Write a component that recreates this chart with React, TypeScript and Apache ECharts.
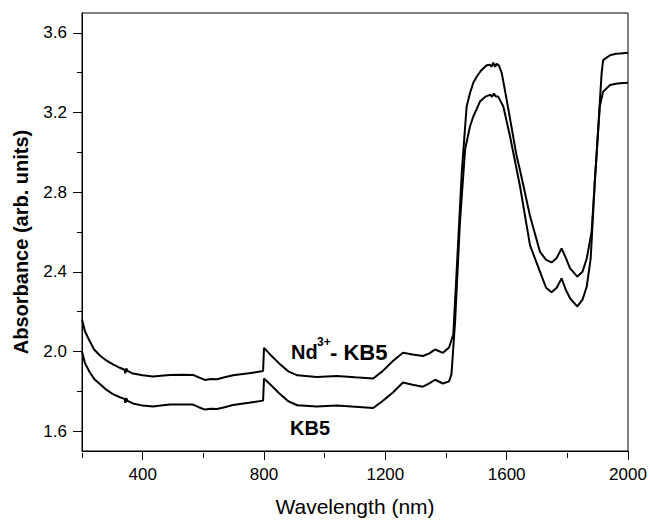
import React, { useEffect, useRef } from "react";
import * as echarts from "echarts";

// Nd3+ - KB5 (upper curve)
const wlUpper = [200, 210, 226, 240, 259, 280, 302, 325, 340, 343, 346, 350, 368, 400, 434, 460, 490, 530, 566, 585, 605, 625, 645, 670, 698, 750, 797, 800, 820, 850, 880, 910, 974, 1040, 1100, 1160, 1190, 1225, 1258, 1290, 1324, 1345, 1364, 1390, 1410, 1424, 1435, 1452, 1468, 1479, 1490, 1501, 1515, 1534, 1545, 1550, 1556, 1562, 1567, 1575, 1584, 1600, 1633, 1644, 1677, 1710, 1730, 1748, 1765, 1781, 1795, 1809, 1833, 1850, 1864, 1880, 1896, 1913, 1918, 1941, 1960, 1974, 2000];
const absUpper = [2.16, 2.1, 2.05, 2.01, 1.98, 1.955, 1.935, 1.918, 1.908, 1.89, 1.915, 1.902, 1.889, 1.88, 1.874, 1.878, 1.882, 1.883, 1.882, 1.87, 1.857, 1.862, 1.86, 1.87, 1.88, 1.89, 1.902, 2.018, 1.985, 1.94, 1.9, 1.88, 1.872, 1.877, 1.87, 1.864, 1.9, 1.952, 1.993, 1.985, 1.977, 1.99, 2.01, 1.993, 2.02, 2.085, 2.4, 2.9, 3.23, 3.297, 3.35, 3.38, 3.41, 3.438, 3.44, 3.43, 3.45, 3.43, 3.445, 3.435, 3.397, 3.264, 2.98, 2.91, 2.68, 2.5, 2.46, 2.447, 2.47, 2.517, 2.47, 2.417, 2.376, 2.4, 2.467, 2.6, 2.98, 3.397, 3.463, 3.488, 3.495, 3.496, 3.5];

// KB5 (lower curve)
const wlLower = [200, 210, 226, 240, 259, 280, 302, 325, 340, 343, 346, 350, 368, 400, 434, 460, 490, 530, 566, 585, 605, 625, 645, 670, 698, 750, 797, 800, 820, 850, 880, 910, 974, 1040, 1100, 1160, 1190, 1225, 1258, 1290, 1324, 1345, 1364, 1390, 1410, 1418, 1430, 1446, 1463, 1479, 1490, 1512, 1530, 1545, 1552, 1558, 1565, 1572, 1589, 1611, 1644, 1677, 1710, 1730, 1748, 1765, 1781, 1795, 1809, 1833, 1850, 1864, 1877, 1891, 1907, 1918, 1941, 1960, 1974, 2000];
const absLower = [2.0, 1.94, 1.894, 1.862, 1.836, 1.808, 1.786, 1.77, 1.762, 1.742, 1.765, 1.752, 1.739, 1.728, 1.723, 1.728, 1.733, 1.734, 1.733, 1.72, 1.708, 1.712, 1.711, 1.72, 1.731, 1.742, 1.753, 1.864, 1.835, 1.79, 1.75, 1.73, 1.723, 1.728, 1.722, 1.716, 1.75, 1.794, 1.844, 1.833, 1.823, 1.84, 1.858, 1.839, 1.85, 1.885, 2.151, 2.65, 3.015, 3.13, 3.18, 3.255, 3.28, 3.289, 3.28, 3.295, 3.28, 3.28, 3.23, 3.081, 2.83, 2.533, 2.4, 2.32, 2.297, 2.32, 2.367, 2.31, 2.267, 2.226, 2.26, 2.326, 2.467, 2.865, 3.23, 3.305, 3.338, 3.345, 3.347, 3.35];

const xMajorTicks = [400, 800, 1200, 1600, 2000];
const xMinorTicks = [200, 600, 1000, 1400, 1800];
const yMajorTicks = [1.6, 2.0, 2.4, 2.8, 3.2, 3.6];
const yMinorTicks = [1.8, 2.2, 2.6, 3.0, 3.4];

const FONT = "Arial, 'Liberation Sans', Helvetica, sans-serif";

export default function App() {
  const ref = useRef<HTMLDivElement>(null);
  useEffect(() => {
    document.body.style.margin = "0";
    const chart = echarts.init(ref.current!, null, { renderer: "svg" });
    const gridLeft = 82, gridRight = 22, gridTop = 13, gridBottom = 69;
    const gw = 650 - gridLeft - gridRight;
    const gh = 522 - gridTop - gridBottom;
    const line = (wl: number[], ab: number[], name: string) => ({
      type: "line",
      name,
      data: wl.map((w, i) => [w, ab[i]]),
      showSymbol: false,
      symbol: "none",
      lineStyle: { color: "#000", width: 2 },
      itemStyle: { color: "#000" },
      xAxisIndex: 0,
      yAxisIndex: 0,
    });
    chart.setOption({
      animation: false,
      backgroundColor: "#fff",
      grid: {
        left: gridLeft,
        right: gridRight,
        top: gridTop,
        bottom: gridBottom,
        show: true,
        borderColor: "#000",
        borderWidth: 1,
        backgroundColor: "transparent",
      },
      xAxis: [
        {
          type: "value",
          min: 200,
          max: 2000,
          position: "bottom",
          splitLine: { show: false },
          axisLine: { show: true, lineStyle: { color: "#000", width: 1 } },
          axisTick: { show: true, customValues: xMajorTicks, length: 9, lineStyle: { color: "#000" } },
          axisLabel: {
            customValues: xMajorTicks,
            formatter: (v: number) => String(v),
            color: "#000",
            fontSize: 17,
            fontFamily: FONT,
            margin: 15,
          },
          name: "Wavelength (nm)",
          nameLocation: "middle",
          nameGap: 45,
          nameTextStyle: { color: "#000", fontSize: 21, fontFamily: FONT },
        },
        {
          type: "value",
          min: 200,
          max: 2000,
          position: "top",
          offset: -gh,
          splitLine: { show: false },
          axisLine: { show: false },
          axisTick: { show: true, inside: true, customValues: xMinorTicks, length: 5, lineStyle: { color: "#000" } },
          axisLabel: { show: false },
        },
      ],
      yAxis: [
        {
          type: "value",
          min: 1.5,
          max: 3.7,
          position: "left",
          splitLine: { show: false },
          axisLine: { show: true, lineStyle: { color: "#000", width: 1 } },
          axisTick: { show: true, customValues: yMajorTicks, length: 9, lineStyle: { color: "#000" } },
          axisLabel: {
            customValues: yMajorTicks,
            formatter: (v: number) => v.toFixed(1),
            color: "#000",
            fontSize: 17,
            fontFamily: FONT,
            margin: 15,
          },
        },
        {
          type: "value",
          min: 1.5,
          max: 3.7,
          position: "right",
          offset: -gw,
          splitLine: { show: false },
          axisLine: { show: false },
          axisTick: { show: true, inside: true, customValues: yMinorTicks, length: 5, lineStyle: { color: "#000" } },
          axisLabel: { show: false },
        },
      ],
      graphic: [
        {
          type: "text",
          x: 21,
          y: 242,
          rotation: Math.PI / 2,
          style: {
            text: "Absorbance (arb. units)",
            align: "center",
            verticalAlign: "middle",
            font: `bold 20px ${FONT}`,
            fill: "#000",
          },
        },
        {
          type: "text",
          x: 291,
          y: 352,
          style: { text: "Nd", align: "left", verticalAlign: "middle", font: `bold 20px ${FONT}`, fill: "#000" },
        },
        {
          type: "text",
          x: 317,
          y: 342,
          style: { text: "3+", align: "left", verticalAlign: "middle", font: `bold 12px ${FONT}`, fill: "#000" },
        },
        {
          type: "text",
          x: 330,
          y: 352,
          style: { text: "- KB5", align: "left", verticalAlign: "middle", font: `bold 22px ${FONT}`, fill: "#000" },
        },
        {
          type: "text",
          x: 290,
          y: 428,
          style: { text: "KB5", align: "left", verticalAlign: "middle", font: `bold 20px ${FONT}`, fill: "#000" },
        },
      ],
      series: [line(wlUpper, absUpper, "Nd3+- KB5"), line(wlLower, absLower, "KB5")],
    });
    return () => chart.dispose();
  }, []);
  return <div ref={ref} style={{ width: 650, height: 522 }} />;
}
